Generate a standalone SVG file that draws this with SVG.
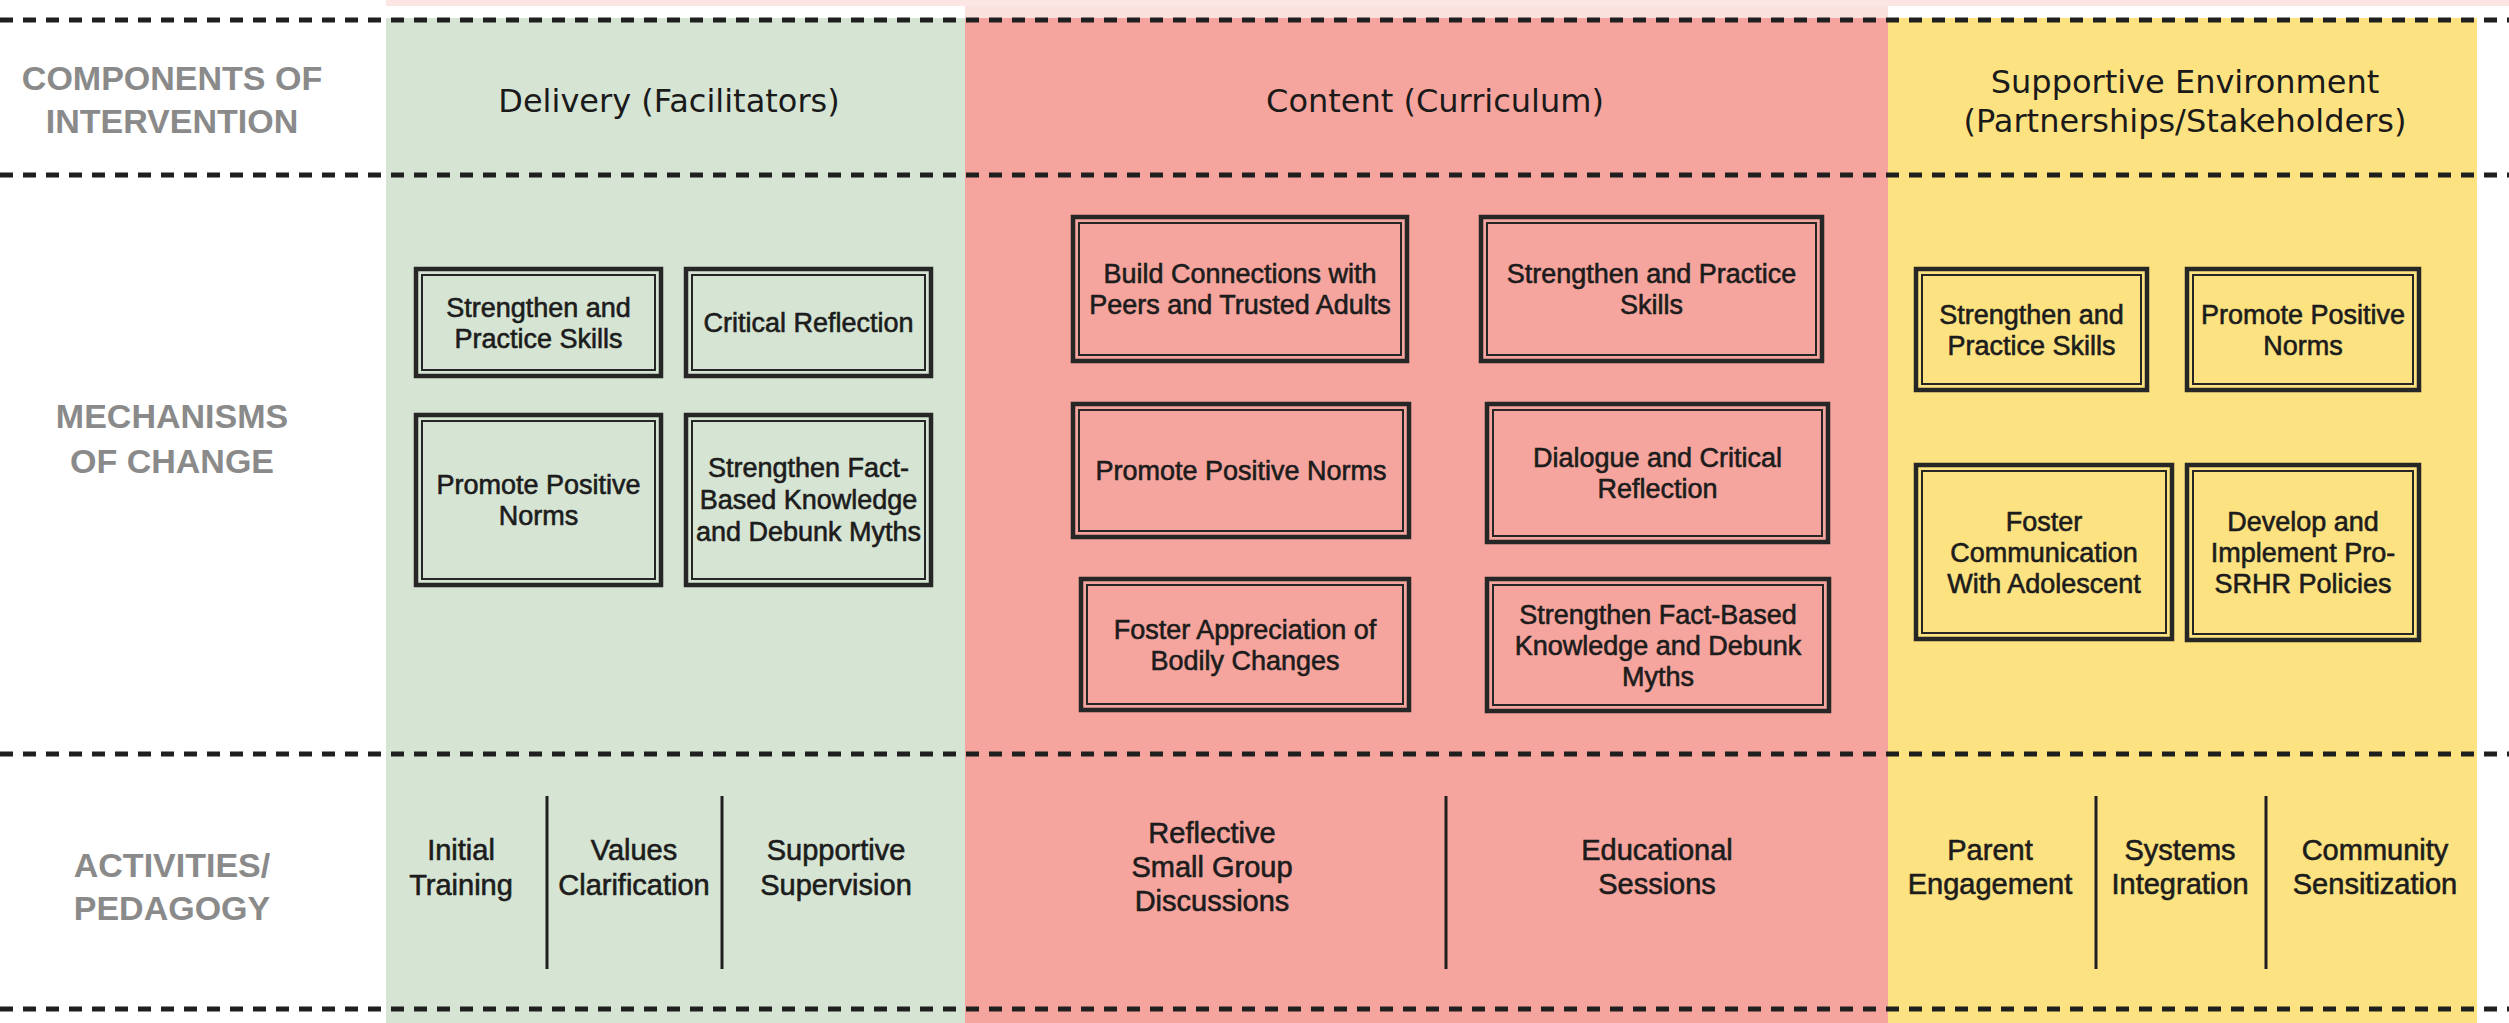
<svg xmlns="http://www.w3.org/2000/svg" width="2509" height="1023" viewBox="0 0 2509 1023">
  <style>
    .lbl{font-family:"Liberation Sans",Arial,sans-serif;font-weight:bold;font-size:34px;fill:#8a8a8a;text-anchor:middle}
    .hdr{font-family:"DejaVu Sans",Verdana,sans-serif;font-size:32px;fill:#1a1a1a;text-anchor:middle}
    .box text{font-family:"Liberation Sans",Arial,sans-serif;font-size:27px;fill:#1c1c1c;stroke:#1c1c1c;stroke-width:0.6;text-anchor:middle}
    .act{font-family:"Liberation Sans",Arial,sans-serif;font-size:29px;fill:#1c1c1c;stroke:#1c1c1c;stroke-width:0.6;text-anchor:middle}
    .outer{fill:none;stroke:#262626;stroke-width:4.5}
    .inner{fill:none;stroke:#262626;stroke-width:2}
    .dash{fill:none;stroke:#1f1f1f;stroke-width:5;stroke-dasharray:13 10}
    .div{stroke:#1f1f1f;stroke-width:3}
  </style>

  <!-- background and column bands -->
  <rect x="0" y="0" width="2509" height="1023" fill="#ffffff"/>
  <rect x="386" y="0" width="2123" height="6" fill="#fbe6e4"/>
  <rect x="965" y="6" width="923" height="12" fill="#fbe1de"/>
  <rect id="band-delivery" x="386" y="18" width="579" height="1005" fill="#d6e4d3"/>
  <rect id="band-content" x="965" y="18" width="923" height="1005" fill="#f5a59e"/>
  <rect id="band-environment" x="1888" y="18" width="589" height="1005" fill="#fde281"/>

  <!-- row labels -->
  <g id="row-components">
    <text class="lbl" x="172" y="90">COMPONENTS OF</text>
    <text class="lbl" x="172" y="133">INTERVENTION</text>
  </g>
  <g id="row-mechanisms">
    <text class="lbl" x="172" y="428">MECHANISMS</text>
    <text class="lbl" x="172" y="473">OF CHANGE</text>
  </g>
  <g id="row-activities">
    <text class="lbl" x="172" y="877">ACTIVITIES/</text>
    <text class="lbl" x="172" y="920">PEDAGOGY</text>
  </g>

  <!-- column headers -->
  <g id="hdr-delivery"><text class="hdr" x="669" y="112">Delivery (Facilitators)</text></g>
  <g id="hdr-content"><text class="hdr" x="1435" y="112">Content (Curriculum)</text></g>
  <g id="hdr-environment">
    <text class="hdr" x="2185" y="93">Supportive Environment</text>
    <text class="hdr" x="2185" y="132">(Partnerships/Stakeholders)</text>
  </g>

  <!-- mechanism boxes: Delivery -->
  <g id="d-skills" class="box">
    <rect class="outer" x="416" y="269" width="245" height="107"/>
    <rect class="inner" x="422" y="275" width="233" height="95"/>
    <text x="538.5" y="316.5">Strengthen and</text>
    <text x="538.5" y="347.5">Practice Skills</text>
  </g>
  <g id="d-reflection" class="box">
    <rect class="outer" x="686" y="269" width="245" height="107"/>
    <rect class="inner" x="692" y="275" width="233" height="95"/>
    <text x="808.5" y="332">Critical Reflection</text>
  </g>
  <g id="d-norms" class="box">
    <rect class="outer" x="416" y="415" width="245" height="170"/>
    <rect class="inner" x="422" y="421" width="233" height="158"/>
    <text x="538.5" y="494">Promote Positive</text>
    <text x="538.5" y="525">Norms</text>
  </g>
  <g id="d-knowledge" class="box">
    <rect class="outer" x="686" y="415" width="245" height="170"/>
    <rect class="inner" x="692" y="421" width="233" height="158"/>
    <text x="808.5" y="477">Strengthen Fact-</text>
    <text x="808.5" y="509">Based Knowledge</text>
    <text x="808.5" y="541">and Debunk Myths</text>
  </g>

  <!-- mechanism boxes: Content -->
  <g id="c-connections" class="box">
    <rect class="outer" x="1073" y="217" width="334" height="144"/>
    <rect class="inner" x="1079" y="223" width="322" height="132"/>
    <text x="1240" y="283">Build Connections with</text>
    <text x="1240" y="314">Peers and Trusted Adults</text>
  </g>
  <g id="c-skills" class="box">
    <rect class="outer" x="1481" y="217" width="341" height="144"/>
    <rect class="inner" x="1487" y="223" width="329" height="132"/>
    <text x="1651.5" y="283">Strengthen and Practice</text>
    <text x="1651.5" y="314">Skills</text>
  </g>
  <g id="c-norms" class="box">
    <rect class="outer" x="1073" y="404" width="336" height="133"/>
    <rect class="inner" x="1079" y="410" width="324" height="121"/>
    <text x="1241" y="480">Promote Positive Norms</text>
  </g>
  <g id="c-dialogue" class="box">
    <rect class="outer" x="1487" y="404" width="341" height="138"/>
    <rect class="inner" x="1493" y="410" width="329" height="126"/>
    <text x="1657.5" y="467">Dialogue and Critical</text>
    <text x="1657.5" y="498">Reflection</text>
  </g>
  <g id="c-bodily" class="box">
    <rect class="outer" x="1081" y="579" width="328" height="131"/>
    <rect class="inner" x="1087" y="585" width="316" height="119"/>
    <text x="1245" y="638.5">Foster Appreciation of</text>
    <text x="1245" y="669.5">Bodily Changes</text>
  </g>
  <g id="c-knowledge" class="box">
    <rect class="outer" x="1487" y="579" width="342" height="132"/>
    <rect class="inner" x="1493" y="585" width="330" height="120"/>
    <text x="1658" y="623.5">Strengthen Fact-Based</text>
    <text x="1658" y="654.5">Knowledge and Debunk</text>
    <text x="1658" y="685.5">Myths</text>
  </g>

  <!-- mechanism boxes: Supportive Environment -->
  <g id="e-skills" class="box">
    <rect class="outer" x="1916" y="269" width="231" height="121"/>
    <rect class="inner" x="1922" y="275" width="219" height="109"/>
    <text x="2031.5" y="323.5">Strengthen and</text>
    <text x="2031.5" y="354.5">Practice Skills</text>
  </g>
  <g id="e-norms" class="box">
    <rect class="outer" x="2187" y="269" width="232" height="121"/>
    <rect class="inner" x="2193" y="275" width="220" height="109"/>
    <text x="2303" y="323.5">Promote Positive</text>
    <text x="2303" y="354.5">Norms</text>
  </g>
  <g id="e-communication" class="box">
    <rect class="outer" x="1916" y="465" width="256" height="174"/>
    <rect class="inner" x="1922" y="471" width="244" height="162"/>
    <text x="2044" y="530.5">Foster</text>
    <text x="2044" y="561.5">Communication</text>
    <text x="2044" y="592.5">With Adolescent</text>
  </g>
  <g id="e-policies" class="box">
    <rect class="outer" x="2187" y="465" width="232" height="175"/>
    <rect class="inner" x="2193" y="471" width="220" height="163"/>
    <text x="2303" y="531">Develop and</text>
    <text x="2303" y="562">Implement Pro-</text>
    <text x="2303" y="593">SRHR Policies</text>
  </g>

  <!-- activities -->
  <g id="a-training"><text class="act" x="461" y="860">Initial</text><text class="act" x="461" y="895">Training</text></g>
  <g id="a-values"><text class="act" x="634" y="860">Values</text><text class="act" x="634" y="895">Clarification</text></g>
  <g id="a-supervision"><text class="act" x="836" y="860">Supportive</text><text class="act" x="836" y="895">Supervision</text></g>
  <g id="a-discussions">
    <text class="act" x="1212" y="843">Reflective</text>
    <text class="act" x="1212" y="877">Small Group</text>
    <text class="act" x="1212" y="911">Discussions</text>
  </g>
  <g id="a-sessions"><text class="act" x="1657" y="860">Educational</text><text class="act" x="1657" y="894">Sessions</text></g>
  <g id="a-parent"><text class="act" x="1990" y="860">Parent</text><text class="act" x="1990" y="894">Engagement</text></g>
  <g id="a-systems"><text class="act" x="2180" y="860">Systems</text><text class="act" x="2180" y="894">Integration</text></g>
  <g id="a-community"><text class="act" x="2375" y="860">Community</text><text class="act" x="2375" y="894">Sensitization</text></g>

  <!-- row rules and activity dividers -->
  <g id="rules">
    <line class="dash" x1="0" y1="20" x2="2509" y2="20"/>
    <line class="dash" x1="0" y1="175" x2="2509" y2="175"/>
    <line class="dash" x1="0" y1="754" x2="2509" y2="754"/>
    <line class="dash" x1="0" y1="1009" x2="2509" y2="1009"/>
    <line class="div" x1="547" y1="796" x2="547" y2="969"/>
    <line class="div" x1="722" y1="796" x2="722" y2="969"/>
    <line class="div" x1="1446" y1="796" x2="1446" y2="969"/>
    <line class="div" x1="2096" y1="796" x2="2096" y2="969"/>
    <line class="div" x1="2266" y1="796" x2="2266" y2="969"/>
  </g>
</svg>
